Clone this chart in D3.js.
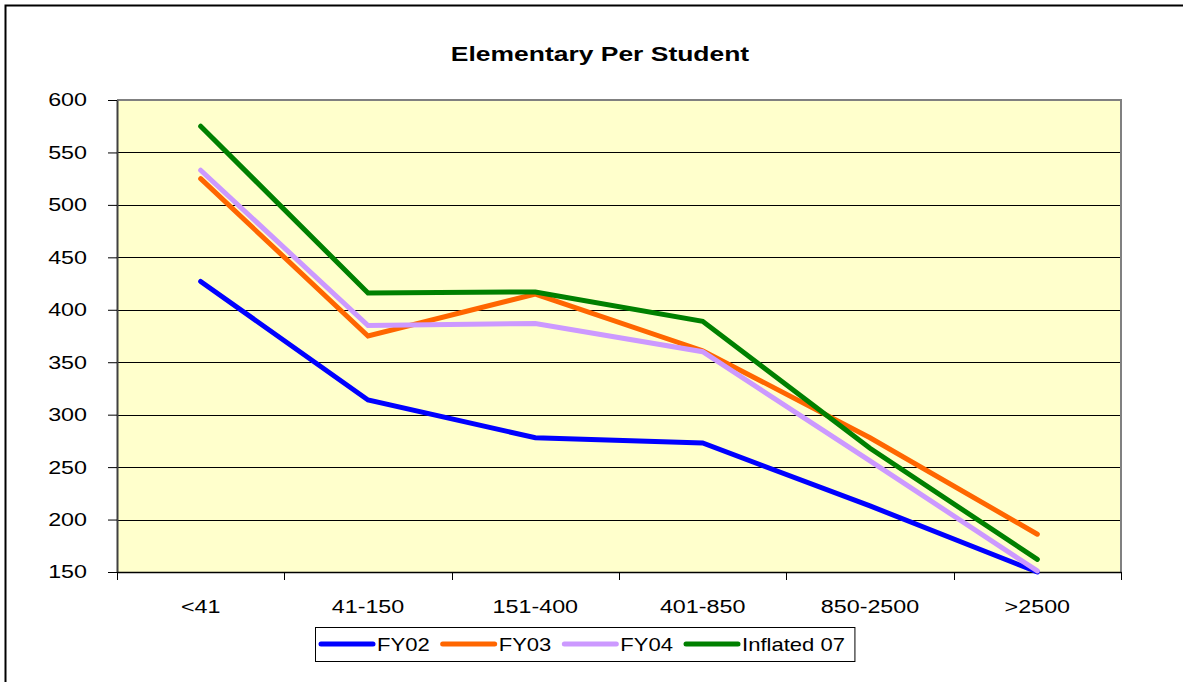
<!DOCTYPE html>
<html>
<head>
<meta charset="utf-8">
<script src="https://cdn.jsdelivr.net/npm/d3@7"></script>
<style>
  body { margin: 0; background: #fff; }
  svg { display: block; font-family: "Liberation Sans", Arial, sans-serif; }
</style>
</head>
<body>
<script>
// chart values
var categories = ["<41", "41-150", "151-400", "401-850", "850-2500", ">2500"];
var fy02 = [427, 314, 278, 273, 213, 150];
var fy03 = [525, 375, 415, 361, 278, 186];
var fy04 = [533, 385, 387, 360, 256, 151];
var inflated07 = [575, 416, 417, 389, 268, 162];
var seriesNames = ["FY02", "FY03", "FY04", "Inflated 07"];
var seriesColors = ["#0000ff", "#ff6600", "#cc99ff", "#008000"];
var yTicks = [150, 200, 250, 300, 350, 400, 450, 500, 550, 600];

var series = [fy02, fy03, fy04, inflated07];
var sx = 1.26; // the original picture is stretched sideways

var W = 1183, H = 682;
var plotL = 117, plotR = 1121, plotT = 100, plotB = 572;

var svg = d3.select("body").append("svg")
    .attr("width", W)
    .attr("height", H);

// outer chart frame (only top and left show)
svg.append("path")
    .attr("d", "M5.5," + H + "V5.5H" + W)
    .attr("fill", "none")
    .attr("stroke", "#000")
    .attr("stroke-width", 2);

svg.append("text")
    .attr("transform", "translate(600,61) scale(" + sx + ",1)")
    .attr("text-anchor", "middle")
    .attr("font-size", 21)
    .attr("font-weight", "bold")
    .text("Elementary Per Student");

var x = d3.scaleBand().domain(categories).range([plotL, plotR]);
var y = d3.scaleLinear().domain([150, 600]).range([plotB, plotT]);

// plot background
svg.append("rect")
    .attr("x", plotL).attr("y", plotT)
    .attr("width", plotR - plotL).attr("height", plotB - plotT)
    .attr("fill", "#ffffcc");

// gridlines
svg.append("g").selectAll("line")
    .data(yTicks.filter(function(d) { return d > 150 && d < 600; }))
    .enter().append("line")
    .attr("x1", plotL).attr("x2", plotR)
    .attr("y1", function(d) { return Math.round(y(d)) + 0.5; })
    .attr("y2", function(d) { return Math.round(y(d)) + 0.5; })
    .attr("stroke", "#000")
    .attr("stroke-width", 1);

// plot border top / right
svg.append("path")
    .attr("d", "M" + plotL + "," + plotT + "H" + plotR + "V" + plotB)
    .attr("fill", "none")
    .attr("stroke", "#808080")
    .attr("stroke-width", 2);

// y axis
var yAxis = svg.append("g")
    .attr("transform", "translate(" + plotL + ",0)")
    .call(d3.axisLeft(y).tickValues(yTicks).tickSize(9).tickSizeOuter(0));
yAxis.select(".domain").attr("stroke", "#404040").attr("stroke-width", 2);
yAxis.selectAll(".tick line").attr("stroke", "#000");
yAxis.selectAll(".tick text")
    .attr("x", -30 / sx)
    .attr("transform", "scale(" + sx + ",1)")
    .attr("font-size", 18.5)
    .attr("font-family", "Liberation Sans, Arial, sans-serif")
    .attr("fill", "#000");

// x axis: labels centred in bands, ticks at band edges
var xAxis = svg.append("g")
    .attr("transform", "translate(0," + plotB + ")")
    .call(d3.axisBottom(x).tickSize(0).tickSizeOuter(0).tickPadding(0));
xAxis.select(".domain").attr("stroke", "#000").attr("stroke-width", 1.5);
xAxis.selectAll(".tick text")
    .attr("y", 41)
    .attr("dy", 0)
    .attr("transform", "scale(" + sx + ",1)")
    .attr("font-size", 18.5)
    .attr("font-family", "Liberation Sans, Arial, sans-serif")
    .attr("fill", "#000");

var edges = categories.map(function(c) { return x(c); }).concat([x.range()[1]]);
xAxis.selectAll(".edge")
    .data(edges)
    .enter().append("line")
    .attr("class", "edge")
    .attr("x1", function(d) { return Math.round(d) + 0.5; })
    .attr("x2", function(d) { return Math.round(d) + 0.5; })
    .attr("y1", 0).attr("y2", 8)
    .attr("stroke", "#000");

// lines
var line = d3.line()
    .x(function(d, i) { return x(categories[i]) + x.bandwidth() / 2; })
    .y(function(d) { return y(d); });

svg.append("g").selectAll("path")
    .data(series)
    .enter().append("path")
    .attr("d", line)
    .attr("fill", "none")
    .attr("stroke", function(d, i) { return seriesColors[i]; })
    .attr("stroke-width", 5)
    .attr("stroke-linecap", "round")
    .attr("stroke-linejoin", "miter");

// legend
var legend = svg.append("g");
var lx = 321, ly = 644;
seriesNames.forEach(function(name, i) {
    var g = legend.append("g");
    g.append("line")
        .attr("x1", lx).attr("x2", lx + 52)
        .attr("y1", ly).attr("y2", ly)
        .attr("stroke", seriesColors[i])
        .attr("stroke-width", 5)
        .attr("stroke-linecap", "round");
    var t = g.append("text")
        .attr("transform", "translate(" + (lx + 56) + "," + (ly + 6.5) + ") scale(" + sx + ",1)")
        .attr("font-size", 17.5)
        .text(name);
    var tw = t.node().getComputedTextLength() * sx;
    lx = lx + 56 + tw + 13;
});
legend.insert("rect", ":first-child")
    .attr("x", 315.5).attr("y", 627.5)
    .attr("width", lx - 13 + 10 - 315.5).attr("height", 34)
    .attr("fill", "#fff")
    .attr("stroke", "#000")
    .attr("stroke-width", 1);
</script>
</body>
</html>
